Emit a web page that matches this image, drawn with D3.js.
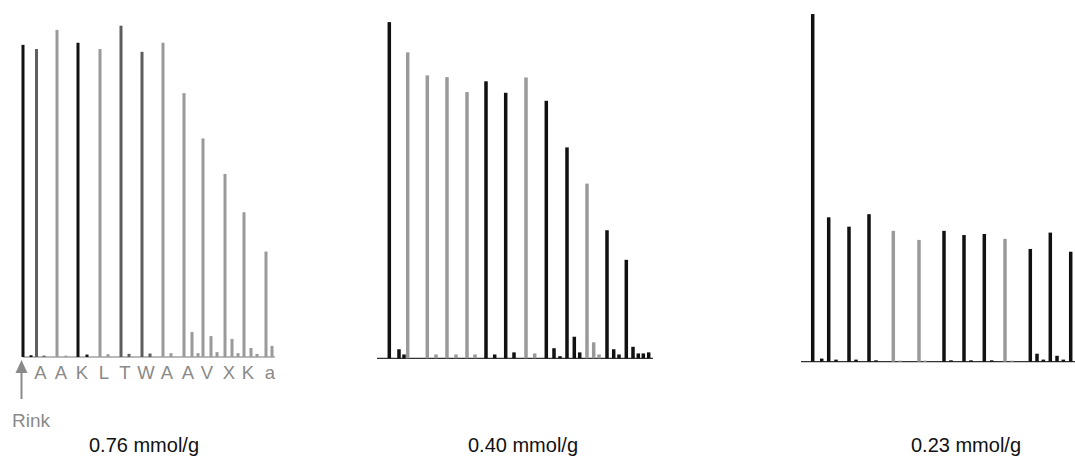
<!DOCTYPE html>
<html>
<head>
<meta charset="utf-8">
<script src="https://cdn.jsdelivr.net/npm/d3@7"></script>
<style>
html,body{margin:0;padding:0;background:#fff;}
svg{display:block;}
text{font-family:"Liberation Sans",Arial,sans-serif;}
</style>
</head>
<body>
<svg id="chart" width="1075" height="457"></svg>
<script>
// ---- Data (retention time in arbitrary units, intensity in % of the tallest peak) ----
// Panel 1: 0.76 mmol/g
const p1Times   = [0.3, 1.65, 3.7, 5.8, 8.0, 10.1, 12.2, 14.3, 16.4, 18.3, 20.5, 22.4, 24.6];
const p1Heights = [89.7, 88.5, 94.0, 90.3, 88.5, 95.2, 87.7, 90.3, 75.8, 62.8, 52.6, 41.6, 30.3];
const p1Shades  = ["k","d","g","k","g","d","d","g","g","g","g","g","g"];
const p1MinorTimes   = [1.1, 2.4, 4.6, 6.7, 8.8, 10.9, 13.0, 15.1, 17.2, 17.8, 19.1, 19.7, 21.2, 21.8, 23.1, 23.7, 25.2];
const p1MinorHeights = [0.5, 0.4, 0.4, 0.7, 0.8, 0.9, 1.0, 1.1, 7.2, 1.1, 6.0, 1.4, 5.2, 1.1, 2.6, 0.9, 3.2];
const p1MinorShades  = ["k","d","g","k","g","d","d","g","g","g","g","g","g","g","g","g","g"];
const residues = ["A","A","K","L","T","W","A","A","V","X","K","a"];

// Panel 2: 0.40 mmol/g
const p2Times   = [0.93, 2.77, 4.73, 6.7, 8.7, 10.6, 12.57, 14.6, 16.63, 18.7, 20.7, 22.7, 24.63];
const p2Heights = [96.6, 87.9, 81.3, 80.8, 76.5, 79.6, 76.3, 80.7, 74.0, 60.6, 50.2, 36.8, 28.3];
const p2Shades  = ["k","g","g","g","g","k","k","g","k","k","g","k","k"];
const p2MinorTimes   = [1.9, 2.4, 5.6, 7.6, 9.5, 11.47, 13.4, 15.47, 17.4, 18.0, 19.43, 19.97, 21.37, 21.9, 23.37, 23.9, 25.3, 25.83, 26.33, 26.87];
const p2MinorHeights = [2.6, 1.1, 1.1, 1.1, 1.1, 1.1, 1.7, 1.4, 2.9, 0.6, 6.2, 1.7, 4.6, 1.1, 2.6, 1.1, 3.3, 1.4, 1.4, 1.7];
const p2MinorShades  = ["k","k","g","g","g","k","k","g","k","k","k","k","g","g","k","k","k","k","k","k"];

// Panel 3: 0.23 mmol/g
const p3Times   = [1.27, 2.87, 4.9, 6.9, 9.33, 11.9, 14.4, 16.4, 18.43, 20.5, 23.03, 25.03, 27.07];
const p3Heights = [99.9, 41.5, 38.8, 42.4, 37.6, 35.0, 37.6, 36.4, 36.7, 35.3, 32.4, 37.1, 31.6];
const p3Shades  = ["k","k","k","k","g","g","k","k","k","g","k","k","k"];
const p3MinorTimes   = [2.17, 3.6, 5.6, 7.6, 10.0, 12.5, 15.1, 17.1, 19.17, 21.17, 23.7, 24.33, 25.7, 26.33];
const p3MinorHeights = [0.9, 0.6, 0.6, 0.4, 0.3, 0.3, 0.4, 0.4, 0.4, 0.3, 2.3, 0.6, 1.7, 0.6];
const p3MinorShades  = ["k","k","k","k","g","g","k","k","k","g","k","k","k","k"];

const loadings = ["0.76 mmol/g", "0.40 mmol/g", "0.23 mmol/g"];
const axisStart = [0.3, -0.3, 0.1];
const axisEnd   = [25.5, 27.3, 27.5];

// ---- Layout ----
const svg = d3.select("#chart");
const shadeColor = d3.scaleOrdinal().domain(["k","d","g"]).range(["#111111","#5e5e5e","#9a9a9a"]);

const panels = [
  {x0: 20,  base: 357,   main: [p1Times, p1Heights, p1Shades], minor: [p1MinorTimes, p1MinorHeights, p1MinorShades], w: 3,   labelX: 144},
  {x0: 380, base: 358.3, main: [p2Times, p2Heights, p2Shades], minor: [p2MinorTimes, p2MinorHeights, p2MinorShades], w: 3.5, labelX: 523},
  {x0: 800, base: 361.7, main: [p3Times, p3Heights, p3Shades], minor: [p3MinorTimes, p3MinorHeights, p3MinorShades], w: 3.5, labelX: 966}
];

panels.forEach((p, i) => {
  const x = d3.scaleLinear().domain([0, 28]).range([p.x0, p.x0 + 280]);
  const y = d3.scaleLinear().domain([0, 100]).range([p.base, p.base - 348]);
  const g = svg.append("g");

  // baseline
  g.append("line")
    .attr("x1", x(axisStart[i])).attr("x2", x(axisEnd[i]))
    .attr("y1", y(0)).attr("y2", y(0))
    .attr("stroke", i === 0 ? "#777" : "#333").attr("stroke-width", 1.2);

  const mk = (arr) => arr[0].map((t, j) => ({t, v: arr[1][j], s: arr[2][j]}));

  g.selectAll(".minor").data(mk(p.minor)).join("rect")
    .attr("x", d => x(d.t) - p.w / 2)
    .attr("width", p.w)
    .attr("y", d => y(d.v))
    .attr("height", d => y(0) - y(d.v))
    .attr("fill", d => shadeColor(d.s));

  g.selectAll(".main").data(mk(p.main)).join("rect")
    .attr("x", d => x(d.t) - p.w / 2)
    .attr("width", p.w)
    .attr("y", d => y(d.v))
    .attr("height", d => y(0) - y(d.v))
    .attr("fill", d => shadeColor(d.s));

  // loading label
  svg.append("text")
    .attr("x", p.labelX).attr("y", 452)
    .attr("text-anchor", "middle")
    .attr("font-size", 20).attr("fill", "#111")
    .text(loadings[i]);

  if (i === 0) {
    // residue letters under peaks 2..13
    g.selectAll(".res").data(residues).join("text")
      .attr("x", (d, j) => x(p1Times[j + 1]) + 4)
      .attr("y", 379)
      .attr("text-anchor", "middle")
      .attr("font-size", 18.5).attr("fill", "#8a8a8a")
      .text(d => d);

    // Rink arrow
    const ax = x(p1Times[0]) - 1.5;
    g.append("line").attr("x1", ax).attr("x2", ax).attr("y1", 370).attr("y2", 399)
      .attr("stroke", "#8a8a8a").attr("stroke-width", 2);
    g.append("path")
      .attr("d", `M${ax},360 L${ax - 6},373 L${ax + 6},373 Z`)
      .attr("fill", "#8a8a8a");
    g.append("text").attr("x", 12).attr("y", 427)
      .attr("font-size", 19).attr("fill", "#8a8a8a").text("Rink");
  }
});
</script>
</body>
</html>
